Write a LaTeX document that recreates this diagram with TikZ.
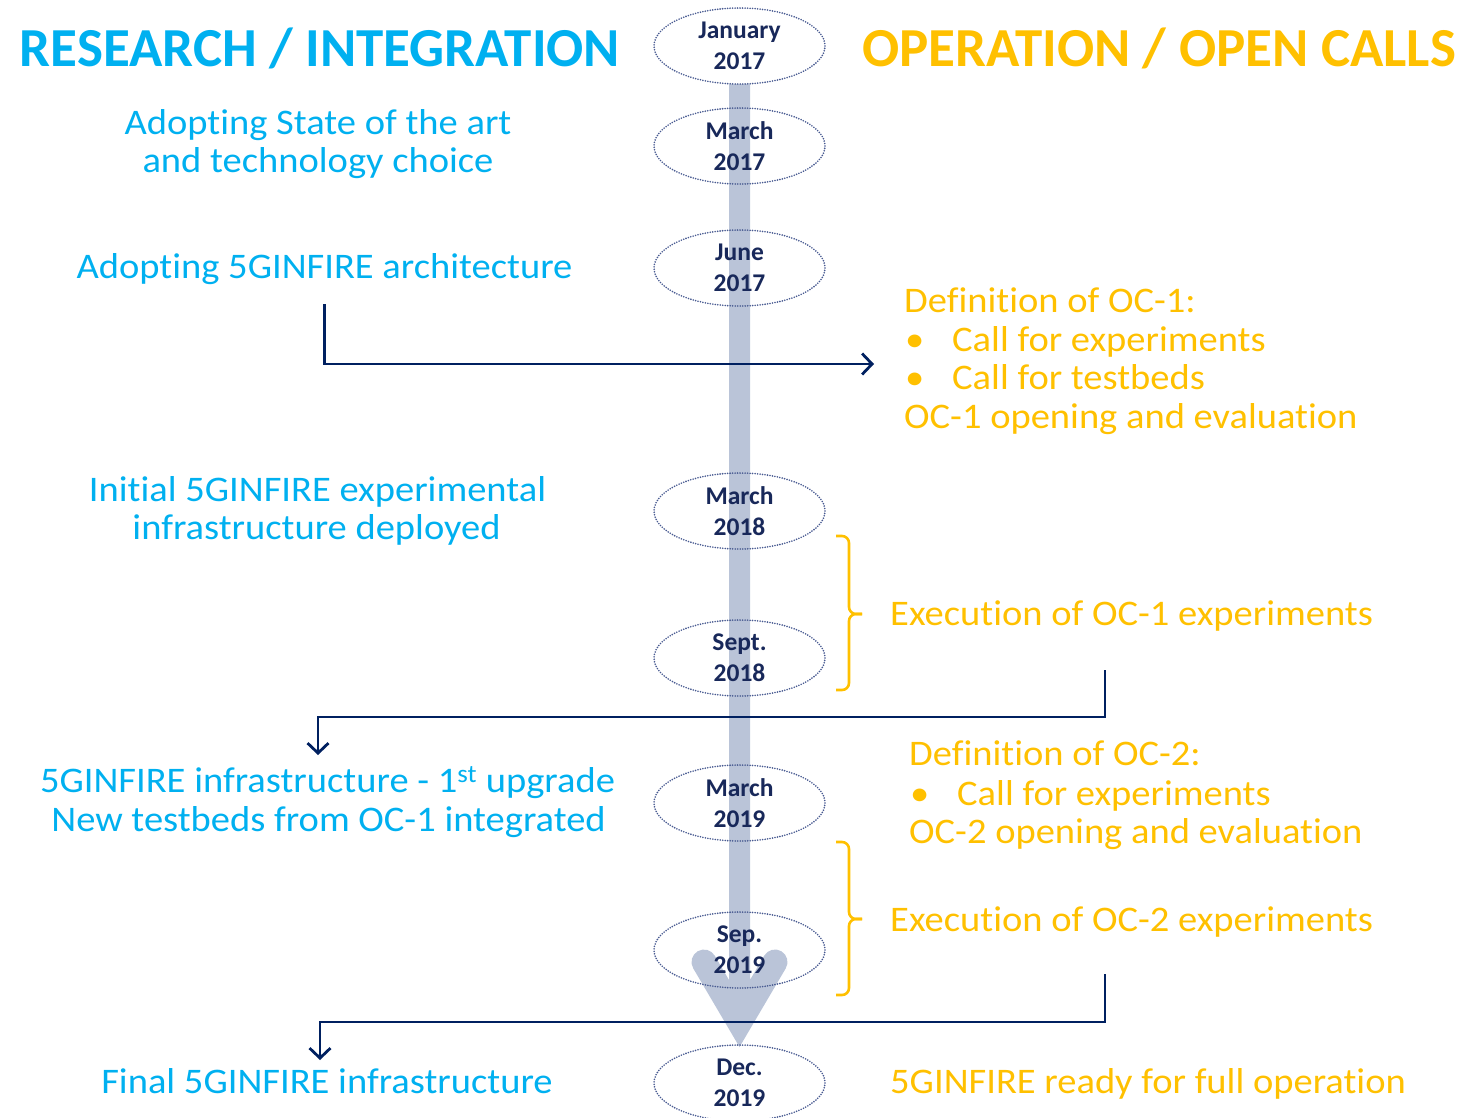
\documentclass[tikz,border=0pt]{standalone}
\usepackage{fontspec}
\setmainfont{Carlito}[Ligatures=NoCommon]
\newfontfamily\bodyfont{Carlito}[Ligatures=NoCommon,FakeStretch=1.07]
\usetikzlibrary{shapes.geometric,arrows.meta}
\definecolor{cyanc}{RGB}{0,176,240}
\definecolor{goldc}{RGB}{255,192,0}
\definecolor{navyc}{RGB}{0,32,96}
\definecolor{bargray}{RGB}{186,196,216}
\definecolor{dotc}{RGB}{72,90,145}
\definecolor{datec}{RGB}{24,40,90}
\newcommand\bul{\makebox[48pt][l]{\hspace{1pt}•}}
\begin{document}
\begin{tikzpicture}[x=1pt,y=1pt,
 lefttxt/.style={text=cyanc,font=\bodyfont\fontsize{36}{38}\selectfont,inner sep=0pt,anchor=base},
 righttxt/.style={text=goldc,font=\bodyfont\fontsize{36}{38}\selectfont,inner sep=0pt,anchor=base west},
 datebox/.style={ellipse,draw=dotc,line width=1.8pt,dash pattern=on 0pt off 2.5pt,line cap=round,minimum width=171pt,minimum height=76pt,inner sep=0pt,align=center,text=datec,font=\fontsize{25.5}{31}\selectfont\bfseries},
 conn/.style={draw=navyc,line width=2.8pt,-{Straight Barb[length=10pt,width=21pt]}},
 bracestyle/.style={draw=goldc,line width=2.6pt,rounded corners=7pt},
 titletxt/.style={font=\fontsize{55}{60}\selectfont\bfseries,inner sep=0pt,anchor=base}]
\useasboundingbox (0,0) rectangle (1465,-1117);
% big timeline arrow
\fill[bargray] (739.5,-1047) -- (693.25,-968.4) arc[start angle=210.7,end angle=30.7,radius=12.5pt] -- (729,-980) -- (729,-84) -- (750,-84) -- (750,-980) -- (764.25,-955.6) arc[start angle=149.3,end angle=-30.7,radius=12.5pt] -- cycle;
% titles
\node[titletxt,text=cyanc] (tl) at (320,-66) {RESEARCH / INTEGRATION};
\node[titletxt,text=goldc] (tr) at (1159,-66) {OPERATION / OPEN CALLS};
% dates
\node[datebox] (d1) at (739.5,-46) {January\\2017};
\node[datebox] (d2) at (739.5,-146) {March\\2017};
\node[datebox] (d3) at (739.5,-268) {June\\2017};
\node[datebox] (d4) at (739.5,-511) {March\\2018};
\node[datebox] (d5) at (739.5,-658) {Sept.\\2018};
\node[datebox] (d6) at (739.5,-803) {March\\2019};
\node[datebox] (d7) at (739.5,-950) {Sep.\\2019};
\node[datebox] (d8) at (739.5,-1083) {Dec.\\2019};
% left column
\node[lefttxt] (a1) at (318,-134) {Adopting State of the art};
\node[lefttxt] (a2) at (318,-172) {and technology choice};
\node[lefttxt] (b1) at (324.5,-278) {Adopting 5GINFIRE architecture};
\node[lefttxt] (c1) at (317.5,-501) {Initial 5GINFIRE experimental};
\node[lefttxt] (c2) at (316.5,-539) {infrastructure deployed};
\node[lefttxt] (u1) at (327.5,-792) {5GINFIRE infrastructure - 1\textsuperscript{st} upgrade};
\node[lefttxt] (u2) at (328.5,-831) {New testbeds from OC-1 integrated};
\node[lefttxt] (f1) at (327,-1093) {Final 5GINFIRE infrastructure};
% right column
\node[righttxt] (o1) at (904,-312) {Definition of OC-1:};
\node[righttxt] (o2) at (904,-351) {\bul Call for experiments};
\node[righttxt] (o3) at (904,-389) {\bul Call for testbeds};
\node[righttxt] (o4) at (904,-428) {OC-1 opening and evaluation};
\node[righttxt] (e1) at (890,-625) {Execution of OC-1 experiments};
\node[righttxt] (p1) at (909,-765) {Definition of OC-2:};
\node[righttxt] (p2) at (909,-805) {\bul Call for experiments};
\node[righttxt] (p3) at (909,-843) {OC-2 opening and evaluation};
\node[righttxt] (e2) at (890,-931) {Execution of OC-2 experiments};
\node[righttxt] (r1) at (890,-1093) {5GINFIRE ready for full operation};
% braces
\draw[bracestyle] (836,-536) -- (849,-536) -- (849,-614) -- (862,-614);
\draw[bracestyle] (836,-690) -- (849,-690) -- (849,-614) -- (862,-614);
\draw[bracestyle] (836,-842) -- (849,-842) -- (849,-919) -- (862,-919);
\draw[bracestyle] (836,-995) -- (849,-995) -- (849,-919) -- (862,-919);
% connectors
\coordinate (k1) at (874,-364);
\coordinate (k2s) at (1105,-670);
\coordinate (k2e) at (318,-755);
\coordinate (k3s) at (1105,-974);
\coordinate (k3e) at (320,-1060);
\draw[conn] ([yshift=-20pt]b1.south) |- (k1);
\draw[conn] (k2s) -- ++(0,-47) -| (k2e);
\draw[conn] (k3s) -- ++(0,-48) -| (k3e);
\end{tikzpicture}
\end{document}
